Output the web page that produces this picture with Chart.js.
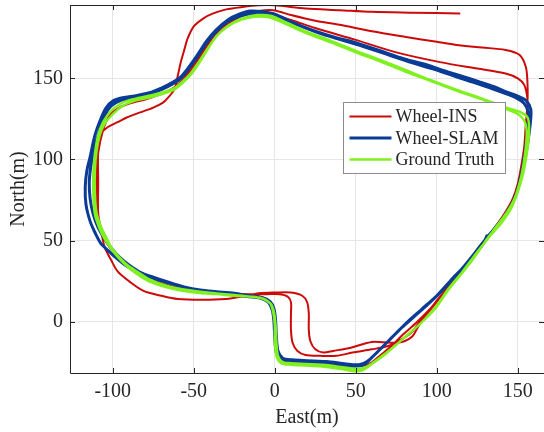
<!DOCTYPE html>
<html>
<head>
<meta charset="utf-8">
<script src="https://cdn.jsdelivr.net/npm/chart.js@4.4.0/dist/chart.umd.min.js"></script>
<style>
  html, body { margin: 0; padding: 0; background: #fff; }
  canvas { display: block; }
</style>
</head>
<body>
<canvas id="traj" width="544" height="432"></canvas>
<script>
// axis ticks and limits (metres)
const xTicks = [-100, -50, 0, 50, 100, 150];
const yTicks = [0, 50, 100, 150];
const xRange = [-126.4, 166.2];
const yRange = [-31.6, 195.2];

const seriesNames = ['Wheel-INS', 'Wheel-SLAM', 'Ground Truth'];

// [East, North], loops are continuous
const truthLoop1 = [[131,51],[122,38],[114,28],[106,18],[99,8],[90,-1],[81,-9],[73,-16],[67,-21],[60,-26],[54,-30],[49,-30.5],[40,-29],[28,-27.5],[19,-27],[10,-26.5],[4,-25.5],[1,-21],[0,-12],[0,-2],[-1,6],[-3,11.5],[-8,14.5],[-16,15.5],[-25,16],[-36,17],[-46,17.6],[-57,19],[-66,21],[-78,25],[-86,30],[-91,34],[-97,40],[-101,45],[-105,51],[-108,57],[-111,66],[-112,78],[-112,92],[-111,104],[-109,115],[-106,123],[-101,130],[-95,134.5],[-88,137],[-79,139],[-69,141.5],[-62,144],[-57,148],[-52,153],[-47,160],[-41,169],[-35,177],[-28,183],[-20,187],[-11,189],[-2,188.5],[8,184],[19,179],[35,173],[50,167],[66,161],[81,155],[96,149],[112,143],[128,137.5],[143,132],[151,129.5],[156,126],[157,120],[156.5,110],[155,100],[153,90],[150,80],[146,70],[140,61],[133,53]];
const truthLoop2 = [[125,43],[116,31],[107,20],[100,10],[91,0],[82,-8],[74,-15],[67,-20.5],[61,-25],[55,-28.5],[50,-29],[42,-28],[30,-26.5],[19,-26],[10,-25.5],[5,-25],[2,-21],[1,-12],[0.5,-2],[-0.5,6],[-2.5,11],[-7,14],[-15,15.5],[-25,16.5],[-36,17.5],[-46,18.5],[-57,20],[-66,22],[-77,26],[-85,31],[-91,35],[-97,41],[-101,46],[-104,52],[-107,58],[-110,67],[-111,79],[-111,93],[-110,105],[-108,115],[-105,122],[-100,128],[-94,133],[-87,136],[-78,138],[-69,140.5],[-62,143],[-57,147],[-52,152],[-47,159],[-42,167],[-36,176],[-29,182],[-21,186],[-12,188],[-3,187.5],[8,183],[19,178],[35,172],[50,166],[66,160],[81,154],[96,148.5],[112,142.5],[128,137],[143,131],[150,128],[154,124],[155.5,118],[155,108],[153.5,97],[151.5,87],[148,76],[143,67],[137,59],[131,51]];

const slamLoop1 = [[131,53],[128,47],[120,37],[110,27],[100,16],[91,8],[82,0],[74,-8],[66,-16],[60,-22],[55,-26.5],[50,-27.5],[40,-26.5],[28,-25],[19,-24.5],[10,-24],[4,-23],[1,-19],[0,-10],[-0.5,0],[-1.5,7],[-4,12],[-9,14.6],[-17,15.5],[-25,17],[-36,18],[-46,19],[-57,21.5],[-66,24],[-76,27],[-83,29.5],[-91,34],[-97,38.6],[-103,44],[-107.5,48.5],[-111,55],[-114,62],[-116.5,72],[-117,83],[-116,93],[-114,101.5],[-111,115],[-107,126],[-104,132],[-100,136],[-94,138],[-85,139.5],[-76,141.5],[-70,144],[-63,147.5],[-58,151],[-53,157],[-48,164],[-42,173],[-36,180],[-29,186],[-22,189.5],[-15,191.5],[-7,191],[0,189.5],[12,184],[25,179],[38,175],[50,172],[65,167],[80,162],[95,158],[102,155.5],[115,151.5],[126,148],[135,145],[142,142],[150,139],[155,136.5],[158,131],[158,125],[157,116],[155,103],[153,93],[151,85],[148,76],[143,67],[137,59]];
const slamLoop2 = [[131,52],[124,43],[115,32],[105,21],[96,12],[87,4],[78,-4],[70,-12],[63,-19],[57,-24.5],[52,-26.5],[44,-26],[32,-24.5],[20,-24],[11,-23.5],[5,-22.5],[2,-18],[1,-9],[0.5,1],[-0.5,8],[-3,12.5],[-8,15],[-16,16],[-25,17.5],[-36,18.5],[-46,19.5],[-56,21.5],[-66,24.5],[-75,27.5],[-83,30.5],[-90,35],[-96,40],[-101,45.5],[-105,51],[-109,58],[-112,66],[-114,76],[-114.5,86],[-113.5,96],[-111.5,106],[-108,118],[-105,127],[-101,133],[-95,136.5],[-86,138.5],[-77,140.5],[-70,143],[-63,146.5],[-58,150],[-53,156],[-48,163],[-42,172],[-36,179],[-29,185],[-21,188.5],[-13,190],[-5,189.5],[2,188],[14,183],[27,178],[40,174],[52,170.5],[67,165.5],[82,160.5],[97,156],[112,151],[126,146.5],[140,141.5],[149,138],[154,134.5],[156.5,129],[156.5,122],[155.5,112],[154,101],[152,90],[149.5,80],[145,70],[140,62],[135,56]];

const insLoop1 = [[132,52],[122,39],[113,28],[104,17],[96,8],[87,-1],[79,-8],[72,-15],[66,-20],[60,-25],[55,-27],[48,-27],[38,-26],[25,-25],[14,-24.5],[6,-24],[2,-20],[1,-10],[0,0],[-1,8],[-4,13],[-10,15.5],[-20,16.5],[-30,17],[-45,18],[-58,20],[-68,22.5],[-78,26],[-88,32],[-96,39],[-102,46],[-106,53],[-109,62],[-111,75],[-111,90],[-110,104],[-107,117],[-103,125],[-97,131],[-88,135.5],[-78,138.5],[-68,141],[-60,145],[-55,150],[-50,157],[-45,165],[-39,174],[-32,182],[-24,187],[-14,190],[-4,190],[10,186],[25,181],[50,173.7],[75,166],[102,160],[125,156],[142.5,153],[150,150],[154,146],[156,137],[156,125],[155,112],[153,98],[151,87],[148,77],[143,68],[136,58]];
const insLoop2 = [[129,49],[120,37],[111,26],[103,16],[95,6],[88,-2],[84,-7],[78,-11],[70,-15],[60,-17],[48,-19],[38,-21],[28,-21],[19,-20.5],[14,-18],[11,-13],[10,-5],[10,5],[10,12],[8,15.5],[3,17],[-5,17],[-15,17],[-28,17.5],[-42,18],[-55,20],[-66,22.5],[-76,26],[-86,31],[-94,37],[-100,44],[-105,52],[-108,60],[-110,72],[-110,88],[-109,104],[-106,118],[-102,127],[-96,132],[-88,135],[-80,137],[-70,140.5],[-62,144.5],[-57,149],[-52,156],[-47.5,163],[-42,170],[-38,175.5],[-32,181.5],[-25,186],[-18,189.5],[-10,191.5],[-1,192],[10,189],[25,185.5],[40,183],[60,179],[81,175.5],[100,172.5],[112,170.6],[128,169],[142.5,167.5],[151,164.5],[155,157],[156,147],[156,135],[155,122],[154,108],[152,95],[150,85],[147,76],[142,67],[135,57]];
const insLoop3 = [[127,47],[118,35],[109,24],[100,13],[93,4],[88,-4],[85,-9],[80,-12],[72,-13],[60,-12.5],[47,-16],[36,-18],[30,-19],[25,-17],[22,-12],[21,-5],[21,5],[20,12],[17,16],[10,18],[0,18],[-10,17.5],[-20,15.5],[-30,14],[-45,13.5],[-60,14],[-70,16],[-81,19],[-90,25],[-97,31],[-101,38],[-105,46],[-107,55],[-109,67],[-109,85],[-109,106],[-107,116],[-103,120],[-97,123],[-91,126],[-83,129],[-75,132],[-69,135],[-66,138],[-62,143],[-60,151],[-58,160],[-56,167],[-54,174],[-50,182],[-44,187],[-38,190],[-30,192.5],[-20,194],[-10,195],[0,195],[19,193],[40,192],[60,191],[85,190.5],[114,190]];

const toPts = loops => loops.flat().map(([x, y]) => ({ x, y }));

const serif = '"Liberation Serif", "Times New Roman", serif';
const inkColor = '#262626';
const colors = ['#cc0a0a', '#0a3c96', '#80f020'];
const widths = [2, 3, 2.4];

// box, inward ticks and legend like the original figure
const framePlugin = {
  id: 'frame',
  afterDatasetsDraw(chart) {
    const { ctx, chartArea: a, scales: { x, y } } = chart;
    ctx.save();
    ctx.strokeStyle = inkColor;
    ctx.lineWidth = 1;
    ctx.beginPath();
    ctx.moveTo(a.left + 0.5, a.top + 0.5);
    ctx.lineTo(a.right, a.top + 0.5);
    ctx.moveTo(a.left + 0.5, a.top);
    ctx.lineTo(a.left + 0.5, a.bottom + 0.5);
    ctx.lineTo(a.right, a.bottom + 0.5);
    xTicks.forEach(v => {
      const px = Math.round(x.getPixelForValue(v)) + 0.5;
      ctx.moveTo(px, a.bottom); ctx.lineTo(px, a.bottom - 5);
      ctx.moveTo(px, a.top); ctx.lineTo(px, a.top + 5);
    });
    yTicks.forEach(v => {
      const py = Math.round(y.getPixelForValue(v)) + 0.5;
      ctx.moveTo(a.left, py); ctx.lineTo(a.left + 5, py);
      ctx.moveTo(a.right, py); ctx.lineTo(a.right - 5, py);
    });
    ctx.stroke();

    // legend
    const lx = 343.5, ly = 102.5, lw = 162, lh = 71;
    ctx.fillStyle = '#fff';
    ctx.fillRect(lx, ly, lw, lh);
    ctx.strokeStyle = '#8c8c8c';
    ctx.strokeRect(lx, ly, lw, lh);
    ctx.font = '18px ' + serif;
    ctx.textBaseline = 'middle';
    ctx.textAlign = 'left';
    seriesNames.forEach((name, i) => {
      const yy = ly + 14 + i * 21.5;
      ctx.strokeStyle = colors[i];
      ctx.lineWidth = widths[i];
      ctx.beginPath();
      ctx.moveTo(lx + 6, yy);
      ctx.lineTo(lx + 48, yy);
      ctx.stroke();
      ctx.fillStyle = inkColor;
      ctx.fillText(name, lx + 52, yy + 1);
    });
    ctx.restore();
  }
};

new Chart(document.getElementById('traj'), {
  type: 'scatter',
  data: {
    datasets: [
      { label: seriesNames[0], data: toPts([insLoop1, insLoop2, insLoop3]), order: 3 },
      { label: seriesNames[1], data: toPts([slamLoop1, slamLoop2]), order: 2 },
      { label: seriesNames[2], data: toPts([truthLoop1, truthLoop2]), order: 1 }
    ].map((d, i) => Object.assign(d, {
      showLine: true,
      borderColor: colors[i],
      backgroundColor: colors[i],
      borderWidth: widths[i],
      pointRadius: 0,
      tension: 0.3,
      borderJoinStyle: 'round',
      borderCapStyle: 'round'
    }))
  },
  options: {
    responsive: false,
    animation: false,
    devicePixelRatio: 1,
    layout: { padding: { top: 5, right: 0, bottom: 0, left: 0 } },
    plugins: { legend: { display: false }, tooltip: { enabled: false } },
    scales: {
      x: {
        type: 'linear',
        min: xRange[0],
        max: xRange[1],
        afterBuildTicks: s => { s.ticks = xTicks.map(v => ({ value: v })); },
        afterFit: s => { s.height = 59; s.paddingLeft = 0; s.paddingRight = 0; },
        grid: { color: '#e6e6e6', drawTicks: false },
        border: { display: false },
        ticks: { color: inkColor, font: { family: serif, size: 20 }, padding: 7, maxRotation: 0 },
        title: { display: true, text: 'East(m)', color: inkColor, font: { family: serif, size: 20 }, padding: { top: 0, bottom: 2 } }
      },
      y: {
        type: 'linear',
        min: yRange[0],
        max: yRange[1],
        afterBuildTicks: s => { s.ticks = yTicks.map(v => ({ value: v })); },
        afterFit: s => { s.width = 70; s.paddingTop = 0; s.paddingBottom = 0; },
        grid: { color: '#e6e6e6', drawTicks: false },
        border: { display: false },
        ticks: { color: inkColor, font: { family: serif, size: 20 }, padding: 7 },
        title: { display: true, text: 'North(m)', color: inkColor, font: { family: serif, size: 20 }, padding: { top: 7, bottom: 0 } }
      }
    }
  },
  plugins: [framePlugin]
});
</script>
</body>
</html>
